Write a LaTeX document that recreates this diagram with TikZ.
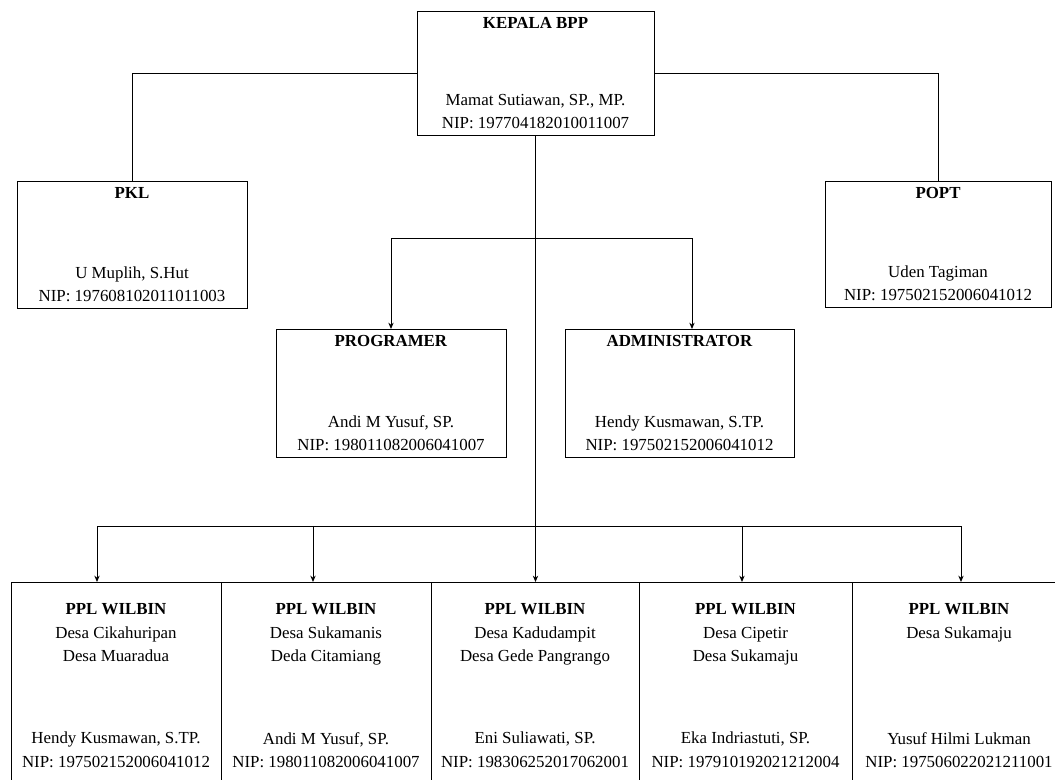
\documentclass[tikz,border=0pt]{standalone}
\usepackage{fontspec}
\setmainfont{Liberation Serif}
\usetikzlibrary{arrows.meta}
\begin{document}
\begin{tikzpicture}[x=0.025cm, y=-0.025cm, >={Stealth[length=4.5pt,width=3.8pt]}, line width=0.6pt,
  every node/.style={font=\fontsize{12}{16.8}\selectfont},
  box/.style={draw, inner sep=0pt, outer sep=0pt},
  title/.style={anchor=north, align=center, inner sep=4.5pt},
  body/.style={anchor=south, align=center, inner sep=4pt}]
  \useasboundingbox (0,0) rectangle (1055,780);
  % upper boxes
  \node[box, minimum width=5.925cm, minimum height=3.1cm] (kepala) at (535.5,73) {};
  \node[title] (kepalaT) at (kepala.north) {\textbf{KEPALA BPP}};
  \node[body] (kepalaB) at (kepala.south) {Mamat Sutiawan, SP., MP.\\NIP: 197704182010011007};
  \node[box, minimum width=5.75cm, minimum height=3.175cm] (pkl) at (132,244.5) {};
  \node[title] (pklT) at (pkl.north) {\textbf{PKL}};
  \node[body] (pklB) at (pkl.south) {U Muplih, S.Hut\\NIP: 197608102011011003};
  \node[box, minimum width=5.65cm, minimum height=3.15cm] (popt) at (938,244) {};
  \node[title] (poptT) at (popt.north) {\textbf{POPT}};
  \node[body] (poptB) at (popt.south) {Uden Tagiman\\NIP: 197502152006041012};
  \node[box, minimum width=5.75cm, minimum height=3.2cm] (prog) at (391,393) {};
  \node[title] (progT) at (prog.north) {\textbf{PROGRAMER}};
  \node[body] (progB) at (prog.south) {Andi M Yusuf, SP.\\NIP: 198011082006041007};
  \node[box, minimum width=5.725cm, minimum height=3.2cm] (admin) at (679.5,393) {};
  \node[title] (adminT) at (admin.north) {\textbf{ADMINISTRATOR}};
  \node[body] (adminB) at (admin.south) {Hendy Kusmawan, S.TP.\\NIP: 197502152006041012};
  % PPL WILBIN row
  \node[box, minimum width=5.25cm, minimum height=5.2cm] (ppl1) at (116,686) {};
  \node[title, yshift=-10.6pt] (ppl1T) at (ppl1.north) {\textbf{PPL WILBIN}\\Desa Cikahuripan\\Desa Muaradua};
  \node[title, yshift=-102pt] (ppl1B) at (ppl1.north) {Hendy Kusmawan, S.TP.\\NIP: 197502152006041012};
  \node[box, minimum width=5.25cm, minimum height=5.2cm] (ppl2) at (326,686) {};
  \node[title, yshift=-10.6pt] (ppl2T) at (ppl2.north) {\textbf{PPL WILBIN}\\Desa Sukamanis\\Deda Citamiang};
  \node[title, yshift=-102pt] (ppl2B) at (ppl2.north) {Andi M Yusuf, SP.\\NIP: 198011082006041007};
  \node[box, minimum width=5.2cm, minimum height=5.2cm] (ppl3) at (535,686) {};
  \node[title, yshift=-10.6pt] (ppl3T) at (ppl3.north) {\textbf{PPL WILBIN}\\Desa Kadudampit\\Desa Gede Pangrango};
  \node[title, yshift=-102pt] (ppl3B) at (ppl3.north) {Eni Suliawati, SP.\\NIP: 198306252017062001};
  \node[box, minimum width=5.325cm, minimum height=5.2cm] (ppl4) at (745.5,686) {};
  \node[title, yshift=-10.6pt] (ppl4T) at (ppl4.north) {\textbf{PPL WILBIN}\\Desa Cipetir\\Desa Sukamaju};
  \node[title, yshift=-102pt] (ppl4B) at (ppl4.north) {Eka Indriastuti, SP.\\NIP: 197910192021212004};
  \node[box, minimum width=5.35cm, minimum height=5.2cm] (ppl5) at (959,686) {};
  \node[title, yshift=-10.6pt] (ppl5T) at (ppl5.north) {\textbf{PPL WILBIN}\\Desa Sukamaju};
  \node[title, yshift=-102pt] (ppl5B) at (ppl5.north) {Yusuf Hilmi Lukman\\NIP: 197506022021211001};
  % connectors
  \draw (kepala.west) -| (pkl.north);
  \draw (kepala.east) -| (popt.north);
  \draw[->] (kepala.south) -- (kepala.south |- ppl3.north);
  \coordinate (midL) at (391,238); \coordinate (midR) at (692,238);
  \draw[<->] (midL |- prog.north) -- (midL) -- (midR) -- (midR |- admin.north);
  \coordinate (busL) at (97,526); \coordinate (busR) at (961,526);
  \coordinate (drop2) at (313,526); \coordinate (drop4) at (742,526);
  \draw[<->] (busL |- ppl1.north) -- (busL) -- (busR) -- (busR |- ppl5.north);
  \draw[->] (drop2) -- (drop2 |- ppl2.north);
  \draw[->] (drop4) -- (drop4 |- ppl4.north);
\end{tikzpicture}
\end{document}
